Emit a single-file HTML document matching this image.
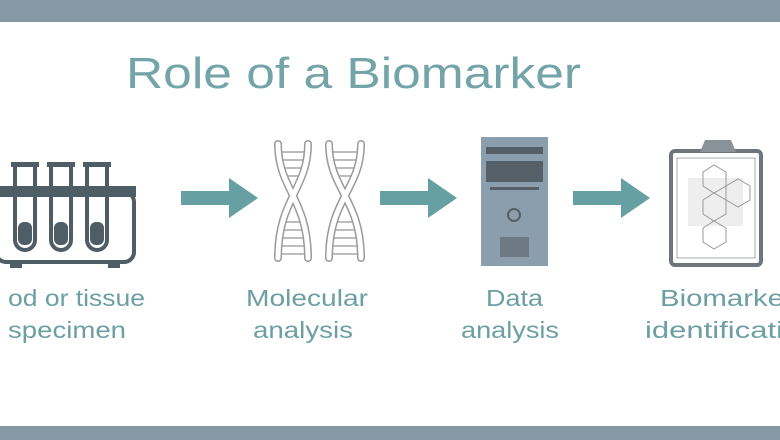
<!DOCTYPE html>
<html><head><style>html,body{margin:0;padding:0;background:#fff}svg{display:block}</style></head>
<body>
<svg width="780" height="440" viewBox="0 0 780 440" xmlns="http://www.w3.org/2000/svg" font-family="Liberation Sans, sans-serif">
<rect x="0" y="0" width="780" height="440" fill="#fff"/>
<rect x="0" y="0" width="780" height="22" fill="#8799a5"/>
<rect x="0" y="426" width="780" height="14" fill="#8799a5"/>
<text x="126" y="88" font-size="44" fill="#72a4a8" textLength="455" lengthAdjust="spacingAndGlyphs">Role of a Biomarker</text>

<!-- test tubes -->
<g fill="none" stroke="#4f5d66" stroke-width="4">
  <rect x="-4" y="192" width="138" height="70" rx="10"/>
  <path d="M15 166v74a10 10 0 0 0 20 0v-74"/>
  <path d="M51 166v74a10 10 0 0 0 20 0v-74"/>
  <path d="M87 166v74a10 10 0 0 0 20 0v-74"/>
</g>
<g fill="#4f5d66">
  <rect x="11" y="162" width="28" height="5"/><rect x="47" y="162" width="28" height="5"/><rect x="83" y="162" width="28" height="5"/>
  <rect x="-4" y="186" width="140" height="11"/>
  <rect x="18" y="222" width="14" height="23" rx="6"/><rect x="54" y="222" width="14" height="23" rx="6"/><rect x="90" y="222" width="14" height="23" rx="6"/>
  <rect x="10" y="262" width="12" height="6"/><rect x="108" y="262" width="12" height="6"/>
</g>
<!-- arrows -->
<g fill="#66a0a2">
  <path d="M181 191h48v-13l29 20l-29 20v-13h-48z"/>
  <path d="M380 191h48v-13l29 20l-29 20v-13h-48z"/>
  <path d="M573 191h48v-13l29 20l-29 20v-13h-48z"/>
</g>
<!-- DNA -->
<g fill="none" stroke="#bdbdbd" stroke-width="2">
  <path d="M282 152h24M283 160h22M284 168h20M286 176h16M286 222h16M284 230h20M283 238h22M282 246h24M282 254h24M333 152h26M334 160h24M335 168h22M337 176h18M337 222h18M335 230h22M334 238h24M333 246h26M333 254h26"/>
</g>
<g fill="none" stroke="#9a9a9a" stroke-width="8" stroke-linecap="round">
  <path d="M278 144c0 45 30 55 30 114M308 144c0 45 -30 55 -30 114"/>
  <path d="M329 144c0 45 32 55 32 114M361 144c0 45 -32 55 -32 114"/>
</g>
<g fill="none" stroke="#fff" stroke-width="5" stroke-linecap="round">
  <path d="M278 144c0 45 30 55 30 114M308 144c0 45 -30 55 -30 114"/>
  <path d="M329 144c0 45 32 55 32 114M361 144c0 45 -32 55 -32 114"/>
</g>
<!-- computer -->
<rect x="481" y="137" width="67" height="129" fill="#8a9eae"/>
<rect x="486" y="147" width="57" height="7" fill="#555f68"/>
<rect x="486" y="161" width="57" height="21" fill="#555f68"/>
<rect x="490" y="187" width="49" height="3" fill="#555f68"/>
<circle cx="514" cy="215" r="6" fill="#8a9eae" stroke="#555f68" stroke-width="2"/>
<rect x="500" y="237" width="29" height="20" fill="#6d7985"/>
<!-- clipboard -->
<rect x="671" y="151" width="90" height="114" rx="4" fill="#fff" stroke="#6e767c" stroke-width="4"/>
<rect x="677" y="158" width="78" height="100" fill="#fff" stroke="#aaa" stroke-width="1"/>
<path d="M700 152l5-12h26l5 12z" fill="#8a9299"/>
<rect x="688" y="178" width="55" height="48" fill="#ddd" opacity="0.5"/>
<g fill="none" stroke="#999" stroke-width="1">
  <path d="M703 172l11-7l12 7v14l-12 7l-11-7z"/>
  <path d="M726 186l12-7l12 7v14l-12 7l-12-7z"/>
  <path d="M703 200l11-7l12 7v14l-12 7l-11-7z"/>
  <path d="M703 228l11-7l12 7v14l-12 7l-11-7z"/>
</g>
<!-- labels -->
<g font-size="23" fill="#6c9fa3" lengthAdjust="spacingAndGlyphs">
  <text x="8" y="306" textLength="137" lengthAdjust="spacingAndGlyphs">od or tissue</text>
  <text x="8" y="338" textLength="118" lengthAdjust="spacingAndGlyphs">specimen</text>
  <text x="246" y="306" textLength="122" lengthAdjust="spacingAndGlyphs">Molecular</text>
  <text x="253" y="338" textLength="100" lengthAdjust="spacingAndGlyphs">analysis</text>
  <text x="486" y="306" textLength="57" lengthAdjust="spacingAndGlyphs">Data</text>
  <text x="461" y="338" textLength="98" lengthAdjust="spacingAndGlyphs">analysis</text>
  <text x="660" y="306" textLength="124" lengthAdjust="spacingAndGlyphs">Biomarke</text>
  <text x="645" y="338" textLength="138" lengthAdjust="spacingAndGlyphs">identificati</text>
</g>
</svg>
</body></html>
